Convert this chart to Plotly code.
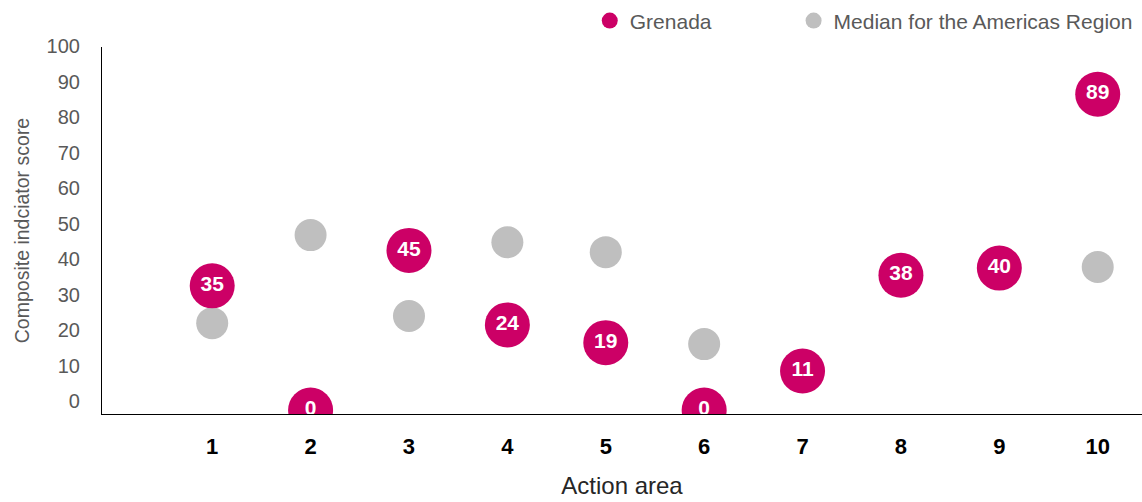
import plotly.graph_objects as go

action_areas = [1, 2, 3, 4, 5, 6, 7, 8, 9, 10]
grenada = [35, 0, 45, 24, 19, 0, 11, 38, 40, 89]
median_americas = [24.5, 49.3, 26.5, 47.3, 44.5, 18.6, None, None, None, 40.3]
y_ticks = [0, 10, 20, 30, 40, 50, 60, 70, 80, 90, 100]

PINK = "#CC0066"
GRAY = "#BFBFBF"
FONT = "Liberation Sans, Arial, sans-serif"

fig = go.Figure()
fig.add_trace(go.Scatter(
    x=action_areas, y=median_americas, mode="markers", name="Median for the Americas Region",
    marker=dict(color=GRAY, size=32, line=dict(width=0)), legend="legend2", showlegend=True,
))
fig.add_trace(go.Scatter(
    x=action_areas, y=grenada, mode="markers+text", name="Grenada",
    marker=dict(color=PINK, size=45, line=dict(width=0)),
    text=[str(v) for v in grenada], textposition="middle center",
    textfont=dict(color="white", size=21, family=FONT, weight="bold"),
    legend="legend", showlegend=True,
))

legend_common = dict(orientation="h", y=1.071, yanchor="middle", xanchor="left",
                     font=dict(size=21, color="#595959"), itemwidth=30,
                     itemsizing="trace", bgcolor="rgba(0,0,0,0)", visible=True)

fig.update_layout(
    width=1142, height=502, showlegend=True,
    margin=dict(l=102, r=0, t=47, b=88, autoexpand=False),
    paper_bgcolor="white", plot_bgcolor="white",
    font=dict(family=FONT, color="#595959", size=18),
    legend=dict(x=0.469, **legend_common),
    legend2=dict(x=0.665, **legend_common),
    xaxis=dict(range=[-0.12, 10.45], tickvals=action_areas, ticktext=[str(v) for v in action_areas],
               showgrid=False, zeroline=False, showline=True, linecolor="#000000", linewidth=1.2,
               tickfont=dict(size=22, color="#000000", family=FONT, weight="bold"),
               ticks="", ticklabelstandoff=12,
               title=dict(text="Action area", font=dict(size=24, color="#262626"), standoff=19)),
    yaxis=dict(range=[-1.1, 102.3], tickvals=y_ticks, showgrid=False, zeroline=False,
               showline=True, linecolor="#000000", linewidth=1.2, ticks="",
               tickfont=dict(size=20, color="#595959"), ticklabelstandoff=17, ticklabelshift=-9,
               title=dict(text="Composite indciator score", font=dict(size=19.5, color="#595959"), standoff=11)),
)

fig.write_html("out.html", config={"displayModeBar": False},
               post_script="document.body.style.margin='0px';")
